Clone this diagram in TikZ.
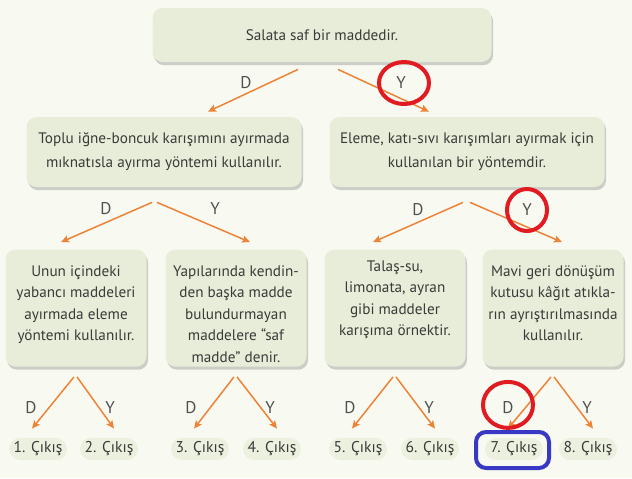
\documentclass[tikz,border=0pt]{standalone}
\usepackage{fontspec}
\setmainfont{PT Sans}
\usetikzlibrary{positioning,shadows,arrows.meta}

\definecolor{bgcol}{HTML}{F8FAF2}
\definecolor{boxcol}{HTML}{E7EDD8}
\definecolor{exitcol}{HTML}{EBF0DF}
\definecolor{arrcol}{HTML}{EE8236}
\definecolor{txtcol}{HTML}{3A3A3A}
\definecolor{lblcol}{HTML}{505050}
\definecolor{redmk}{HTML}{E01B22}
\definecolor{bluemk}{HTML}{3838C4}

\begin{document}
\begin{tikzpicture}[
x=0.5pt, y=-0.5pt,
qbox/.style={rounded corners=5pt,
             fill=boxcol,
             text=txtcol,
             align=center,
             inner sep=0pt,
             %draw=boxcol!80!black,
             drop shadow={shadow xshift=0.8pt, shadow yshift=-1.6pt,
                          opacity=0.3, fill=black!60}
             },
midbox/.style={qbox, minimum width=137.5pt, minimum height=35pt,
               font=\fontsize{7.6}{12}\selectfont},
leafbox/.style={qbox, minimum width=70.5pt, minimum height=58.5pt,
                font=\fontsize{7.6}{10.7}\selectfont},
exitbox/.style={rounded corners=5.5pt, fill=exitcol, text=txtcol,
                minimum width=29pt, minimum height=11pt, inner sep=0pt,
                font=\fontsize{7.8}{9}\selectfont},
lbl/.style={text=lblcol, inner sep=1pt, font=\fontsize{8.5}{10}\selectfont},
arr/.style={draw=arrcol, line width=0.75pt,
            -{Stealth[length=4pt, width=3.6pt, inset=0.8pt]}},
redring/.style={draw=redmk, line width=2pt},
bluering/.style={draw=bluemk, line width=2pt, rounded corners=5pt}
]

\fill[bgcol] (0,0) rectangle (632,478);
\useasboundingbox (0,0) rectangle (632,478);

% root
\node[qbox, minimum width=169.5pt, minimum height=27pt,
      font=\fontsize{7.6}{12}\selectfont] (top) at (322,35) {Salata saf bir maddedir.};

% level 2
\node[midbox] (L) at (164,152) {Toplu iğne-boncuk karışımını ayırmada\\ mıknatısla ayırma yöntemi kullanılır.};
\node[midbox] (R) at (467,152) {Eleme, katı-sıvı karışımları ayırmak için\\ kullanılan bir yöntemdir.};

% level 3
\node[leafbox] (b1) at (76,308) {\parbox[c][58.5pt][t]{68pt}{\centering\rule{0pt}{13.5pt}Unun içindeki\\ yabancı maddeleri\\ ayırmada eleme\\ yöntemi kullanılır.}};
\node[leafbox] (b2) at (236,308) {\parbox[c][58.5pt][t]{68pt}{\centering\rule{0pt}{13.5pt}Yapılarında kendin-\\ den başka madde\\ bulundurmayan\\ maddelere “saf\\ madde” denir.}};
\node[leafbox] (b3) at (395,308) {\parbox[c][58.5pt][t]{68pt}{\centering\rule{0pt}{11pt}Talaş-su,\\ limonata, ayran\\ gibi maddeler\\ karışıma örnektir.}};
\node[leafbox] (b4) at (553,308) {\parbox[c][58.5pt][t]{68pt}{\centering\rule{0pt}{13.5pt}Mavi geri dönüşüm\\ kutusu kâğıt atıkla-\\ rın ayrıştırılmasında\\ kullanılır.}};

% exits
\foreach \n/\x in {1/38, 2/109, 3/200, 4/272, 5/358, 6/430, 7/514, 8/588} {
  \node[exitbox] (e\n) at (\x,449) {\n. Çıkış};
}

% D / Y from root
\draw[arr] ([shift={(-24,7)}]top.south) -- ([shift={(44,-5)}]L.north);
\draw[arr] ([shift={(16,7)}]top.south) -- ([shift={(-38,-5)}]R.north);
\node[lbl] (tD) at (246,83) {D};
\node[lbl] (tY) at (401,83) {Y};

% D / Y from level 2
\draw[arr] ([shift={(-12,15)}]L.south) -- ([shift={(-15,-7)}]b1.north);
\draw[arr] ([shift={(-7,15)}]L.south) -- ([shift={(14,-7)}]b2.north);
\draw[arr] ([shift={(-4,15)}]R.south) -- ([shift={(-22,-7)}]b3.north);
\draw[arr] ([shift={(3,15)}]R.south) -- ([shift={(9,-7)}]b4.north);
\node[lbl] (lD) at (106,209) {D};
\node[lbl] (lY) at (215,209) {Y};
\node[lbl] (rD) at (418,210) {D};
\node[lbl] (rY) at (527,210) {Y};

% D / Y to exits
\foreach \i/\d/\y in {1/1/2, 2/3/4, 3/5/6, 4/7/8} {
  \draw[arr] ([shift={(-2,10)}]b\i.south) -- ([shift={(-6,-9)}]e\d.north);
  \draw[arr] ([shift={(1,10)}]b\i.south) -- ([shift={(5,-9)}]e\y.north);
  \node[lbl] (dl\i) at ([shift={(-45,41)}]b\i.south) {D};
  \node[lbl] (yl\i) at ([shift={(34,41)}]b\i.south) {Y};
}

% marks
\draw[redring] ([shift={(3,0)}]tY.center) ellipse [x radius=12.5pt, y radius=10.5pt];
\draw[redring] (rY.center) ellipse [x radius=10pt, y radius=10.5pt];
\draw[redring] ([shift={(0,-3)}]dl4.center) ellipse [x radius=12.5pt, y radius=11.5pt];
\draw[bluering] ([shift={(-38,-17)}]e7.center) rectangle ([shift={(35,19)}]e7.center);

\end{tikzpicture}
\end{document}
